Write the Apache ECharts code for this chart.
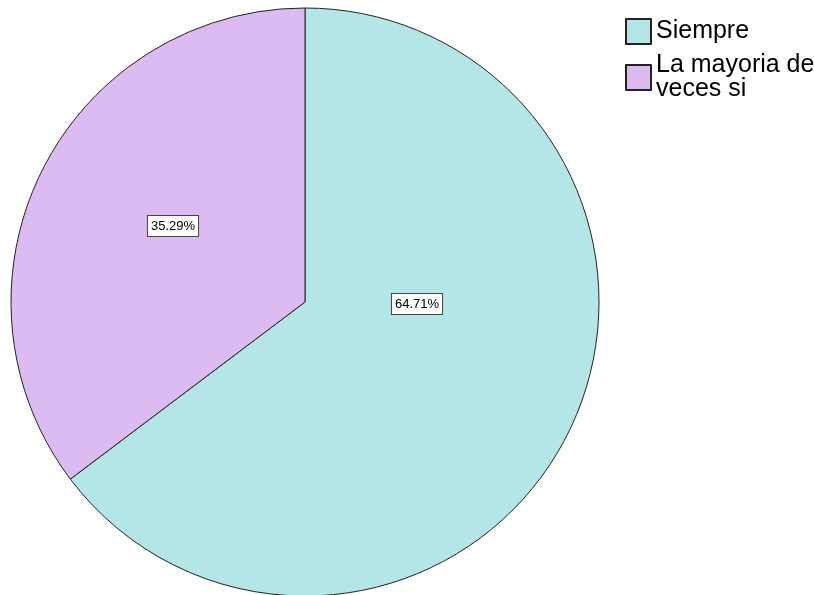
<!DOCTYPE html>
<html><head><meta charset="utf-8">
<script src="https://cdn.jsdelivr.net/npm/echarts@6/dist/echarts.min.js"></script>
<style>html,body{margin:0;padding:0;background:#fff}#c{width:814px;height:595px}</style>
</head><body><div id="c"></div>
<script>
const categories = ['Siempre', 'La mayoria de\nveces si'];
const values = [64.71, 35.29];
const colors = ['#b4e6e7', '#dcbaf2'];
const labelPos = [[417, 304], [173, 226]];

const chart = echarts.init(document.getElementById('c'), null, {renderer: 'canvas'});
chart.setOption({
  animation: false,
  backgroundColor: '#fff',
  legend: {
    orient: 'vertical', left: 620, top: 13,
    icon: 'rect', itemWidth: 25, itemHeight: 25, itemGap: 8,
    textStyle: {fontFamily: 'Liberation Sans', fontSize: 25, color: '#000', lineHeight: 24},
    data: categories
  },
  series: [{
    type: 'pie', center: [305, 302], radius: 294, startAngle: 90, clockwise: true,
    data: categories.map((c, i) => ({name: c, value: values[i], itemStyle: {color: colors[i]}})),
    itemStyle: {borderColor: '#222', borderWidth: 1},
    label: {
      show: true, position: 'inside',
      formatter: p => p.value.toFixed(2) + '%',
      fontFamily: 'Liberation Sans', fontSize: 13, color: '#000',
      backgroundColor: '#fff', borderColor: '#444', borderWidth: 1, padding: [4, 3, 3, 3]
    },
    labelLine: {show: false},
    labelLayout: p => ({x: labelPos[p.dataIndex][0], y: labelPos[p.dataIndex][1], align: 'center', verticalAlign: 'middle'}),
    emphasis: {disabled: true}
  }]
});
</script></body></html>
